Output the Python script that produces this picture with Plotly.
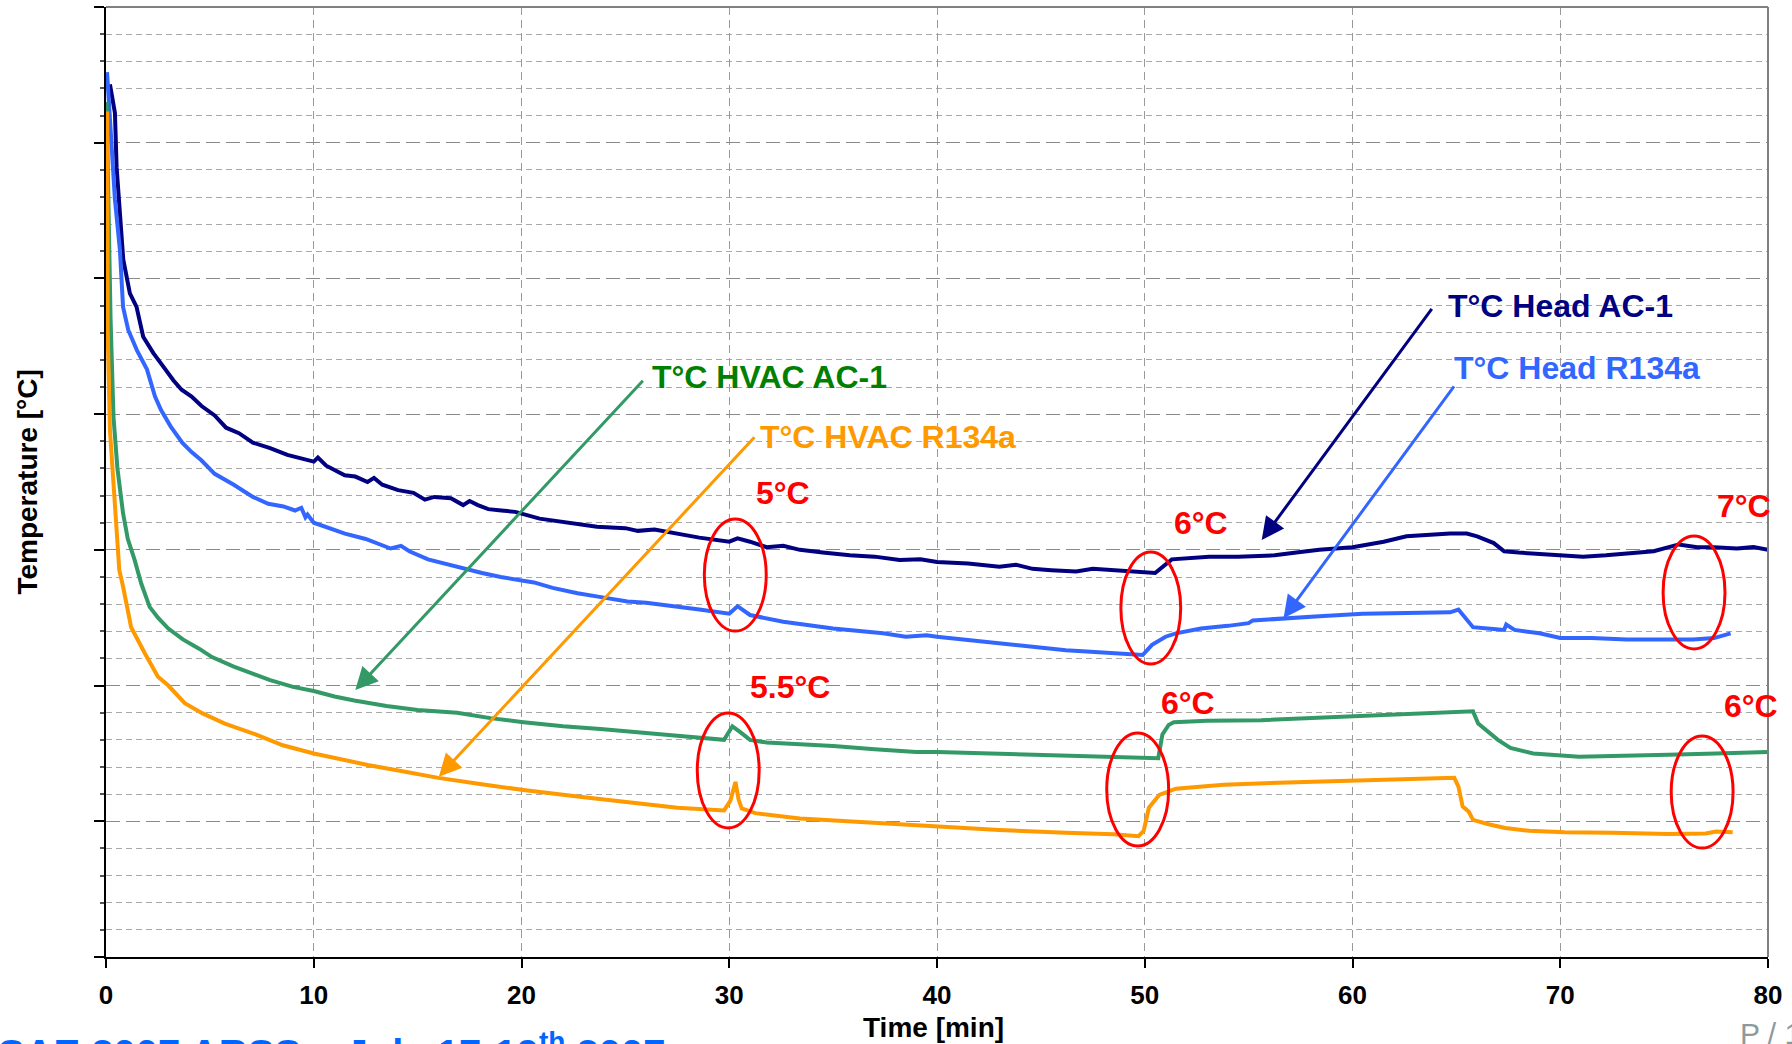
import plotly.graph_objects as go

# ---------------- data ----------------
head_ac1_t = [0.19, 0.43, 0.51, 0.67, 0.83, 1.15, 1.47, 1.79, 1.9, 2.28, 2.76, 3.24, 3.64, 4.12, 4.6,
              5.23, 5.78, 6.4, 7.07, 7.9, 8.73, 9.4, 10.0, 10.2, 10.6, 11.49, 12.0, 12.59, 12.9, 13.3,
              14.06, 14.8, 15.35, 15.8, 16.6, 17.19, 17.5, 17.9, 18.4, 19.03, 19.7, 20.87, 22.2, 23.63,
              25.0, 25.6, 26.4, 27.5, 28.56, 30.0, 30.4, 31.0, 31.8, 32.6, 33.4, 34.5, 35.8, 37.0, 38.2,
              39.2, 40.0, 41.5, 43.0, 43.8, 44.6, 45.5, 46.7, 47.5, 48.6, 49.5, 50.5, 51.3, 52.0, 53.1,
              54.5, 56.25, 57.3, 58.4, 60.0, 61.5, 62.6, 63.6, 64.7, 65.5, 66.0, 66.8, 67.3, 68.0, 69.0,
              70.0, 71.1, 72.2, 73.2, 74.5, 75.7, 76.6, 77.4, 78.5, 79.3, 80.0]
head_ac1_T = [64.3, 62.2, 58.2, 54.8, 51.4, 48.9, 47.9, 45.7, 45.4, 44.5, 43.5, 42.5, 41.8, 41.3, 40.6,
              39.9, 39.0, 38.6, 37.9, 37.5, 37.0, 36.7, 36.5, 36.8, 36.2, 35.5, 35.4, 35.0, 35.3, 34.8,
              34.4, 34.2, 33.7, 33.9, 33.8, 33.3, 33.6, 33.3, 33.0, 32.9, 32.8, 32.3, 32.0, 31.7,
              31.6, 31.4, 31.5, 31.2, 30.9, 30.6, 30.85, 30.6, 30.2, 30.3, 30.0, 29.8, 29.6, 29.5, 29.25,
              29.3, 29.1, 29.0, 28.76, 28.9, 28.6, 28.5, 28.4, 28.6, 28.5, 28.4, 28.3, 29.3, 29.4, 29.5,
              29.5, 29.6, 29.8, 30.0, 30.2, 30.6, 31.0, 31.1, 31.2, 31.2, 31.0, 30.5, 29.9, 29.8, 29.7,
              29.6, 29.5, 29.6, 29.7, 29.9, 30.4, 30.2, 30.2, 30.1, 30.2, 30.0]

head_r134a_t = [0.05, 0.19, 0.43, 0.67, 0.82, 1.07, 1.49, 1.97, 2.36, 2.65, 3.11, 3.67, 4.12, 4.59, 5.23,
                6.15, 7.07, 7.81, 8.54, 9.1, 9.4, 9.6, 9.7, 10.0, 10.7, 11.5, 12.5, 13.7, 14.2, 14.6,
                15.5, 16.5, 17.3, 18.1, 19.0, 19.95, 20.6, 21.5, 22.7, 23.9, 25.1, 26.0, 27.2, 28.56,
                30.0, 30.4, 31.0, 32.6, 35.0, 37.4, 38.5, 39.5, 40.0, 41.5, 43.0, 44.5, 46.2, 47.4,
                48.6, 49.9, 50.35, 51.0, 51.5, 52.7, 54.0, 55.0, 55.2, 56.5, 58.4, 60.5, 62.5, 64.7,
                65.1, 65.8, 66.5, 67.3, 67.4, 67.8, 69.0, 70.0, 71.5, 73.2, 74.8, 76.4, 77.4, 78.2]
head_r134a_T = [65.2, 61.9, 55.8, 52.1, 47.9, 46.2, 44.7, 43.3, 41.3, 40.3, 39.1, 37.9, 37.2, 36.6, 35.6,
                34.8, 33.9, 33.4, 33.2, 32.9, 33.1, 32.4, 32.6, 32.0, 31.6, 31.2, 30.8, 30.1, 30.3, 29.9,
                29.3, 28.9, 28.6, 28.3, 28.0, 27.8, 27.6, 27.2, 26.8, 26.5, 26.2, 26.1, 25.9, 25.6,
                25.3, 25.85, 25.2, 24.7, 24.2, 23.85, 23.6, 23.7, 23.6, 23.35, 23.1, 22.9, 22.6, 22.5,
                22.4, 22.25, 23.0, 23.6, 23.85, 24.2, 24.4, 24.6, 24.8, 24.9, 25.1, 25.3, 25.35, 25.4,
                25.6, 24.3, 24.2, 24.1, 24.5, 24.1, 23.85, 23.5, 23.5, 23.4, 23.4, 23.4, 23.5, 23.85]

hvac_ac1_t = [0.03, 0.12, 0.22, 0.36, 0.55, 0.82, 1.05, 1.37, 1.7, 2.1, 2.5, 3.0, 3.7, 4.5, 5.1, 6.15,
              7.0, 7.9, 9.0, 10.0, 11.0, 11.95, 13.5, 15.0, 16.9, 18.5, 20.1, 22.0, 23.8, 25.5, 27.5,
              29.75, 30.15, 30.5, 31.0, 31.8, 33.4, 35.0, 37.0, 39.0, 40.0, 43.0, 46.2, 48.5, 50.65,
              50.85, 51.15, 51.4, 53.0, 55.6, 57.8, 59.9, 62.0, 64.0, 65.8, 66.05, 66.5, 67.0, 67.6,
              68.7, 70.9, 73.0, 75.2, 77.5, 80.0]
hvac_ac1_T = [63.0, 55.0, 47.0, 39.8, 36.0, 32.7, 30.8, 29.3, 27.5, 25.8, 25.0, 24.2, 23.4, 22.7, 22.1, 21.4,
              20.9, 20.4, 19.9, 19.6, 19.2, 18.9, 18.5, 18.2, 18.0, 17.6, 17.3, 17.0, 16.8, 16.6, 16.3,
              16.0, 17.0, 16.6, 16.0, 15.8, 15.7, 15.55, 15.3, 15.1, 15.1, 14.96, 14.8, 14.75, 14.65,
              16.4, 17.1, 17.3, 17.4, 17.45, 17.6, 17.7, 17.85, 18.0, 18.1, 17.2, 16.6, 16.0, 15.4,
              15.0, 14.76, 14.8, 14.9, 15.0, 15.1]

hvac_r134a_t = [0.06, 0.08, 0.19, 0.43, 0.64, 0.82, 1.21, 1.86, 2.5, 3.0, 3.79, 4.65, 5.72, 7.2, 8.51,
                10.0, 11.2, 12.6, 14.2, 16.0, 18.0, 20.1, 22.8, 25.5, 27.5, 29.75, 30.05, 30.3, 30.45,
                30.6, 31.25, 33.4, 36.6, 40.0, 43.0, 46.2, 48.5, 49.7, 49.95, 50.2, 50.7, 51.5, 53.8,
                57.7, 62.1, 64.9, 65.1, 65.3, 65.6, 65.8, 66.5, 67.35, 68.5, 70.2, 72.5, 75.2, 77.0,
                77.5, 78.3]
hvac_r134a_T = [62.3, 46.2, 38.8, 32.7, 28.5, 27.3, 24.3, 22.4, 20.65, 20.0, 18.7, 17.95, 17.2, 16.4, 15.6,
                15.0, 14.6, 14.15, 13.7, 13.2, 12.75, 12.3, 11.8, 11.3, 11.0, 10.8, 11.5, 12.9, 11.6,
                10.95, 10.6, 10.2, 9.9, 9.6, 9.36, 9.16, 9.05, 8.9, 9.3, 11.0, 11.95, 12.4, 12.7,
                12.9, 13.04, 13.2, 12.55, 11.1, 10.7, 10.1, 9.8, 9.5, 9.3, 9.2, 9.15, 9.06, 9.1,
                9.25, 9.2]

x_ticks = [0, 10, 20, 30, 40, 50, 60, 70, 80]

series = [
    ("T°C Head AC-1", head_ac1_t, head_ac1_T, "#000080"),
    ("T°C Head R134a", head_r134a_t, head_r134a_T, "#3366FF"),
    ("T°C HVAC AC-1", hvac_ac1_t, hvac_ac1_T, "#339966"),
    ("T°C HVAC R134a", hvac_r134a_t, hvac_r134a_T, "#FF9900"),
]

# label text, colour, anchor (t, T), arrow tip (t, T), arrow tail (t, T), arrow colour
labels = [
    ("T°C Head AC-1", "#000080", (64.5, 47.97), (55.63, 30.73), (63.87, 47.87), "#000080"),
    ("T°C Head R134a", "#3366FF", (64.8, 43.4), (56.68, 24.96), (64.94, 42.15), "#3366FF"),
    ("T°C HVAC AC-1", "#008000", (26.2, 42.74), (12.0, 19.67), (25.91, 42.57), "#339966"),
    ("T°C HVAC R134a", "#FF9900", (31.4, 38.32), (16.02, 13.29), (31.28, 38.41), "#FF9900"),
]

diff_labels = [("5°C", 31.2, 34.19), ("6°C", 51.3, 31.98), ("7°C", 77.45, 33.2),
               ("5.5°C", 30.9, 19.9), ("6°C", 50.7, 18.72), ("6°C", 77.8, 18.46)]

ellipses = [(28.8, 31.78, 24.02, 32.27), (48.85, 51.73, 21.59, 29.84), (74.95, 77.93, 22.70, 31.02),
            (28.46, 31.44, 9.51, 17.98), (48.17, 51.15, 8.18, 16.51), (75.34, 78.32, 8.03, 16.28)]

FONT = "Liberation Sans, Arial, sans-serif"

fig = go.Figure()
for name, t, T, col in series:
    fig.add_trace(go.Scatter(x=t, y=T, mode="lines", name=name,
                             line=dict(color=col, width=4), showlegend=False))

annotations = []
for text, col, (lx, ly), (tx, ty), (ax, ay), acol in labels:
    annotations.append(dict(x=tx, y=ty, ax=ax, ay=ay, xref="x", yref="y", axref="x", ayref="y",
                            text="", showarrow=True, arrowhead=2, arrowsize=1.5, arrowwidth=3,
                            arrowcolor=acol))
    annotations.append(dict(x=lx, y=ly, xref="x", yref="y", text=text, showarrow=False,
                            xanchor="left", yanchor="middle",
                            font=dict(family=FONT, size=32, color=col, weight="bold")))
for text, lx, ly in diff_labels:
    annotations.append(dict(x=lx, y=ly, xref="x", yref="y", text=text, showarrow=False,
                            xanchor="left", yanchor="middle",
                            font=dict(family=FONT, size=32, color="#FF0000", weight="bold")))

# axis titles
annotations.append(dict(x=-0.0478, y=0.5, xref="paper", yref="paper", xanchor="center", yanchor="middle",
                        text="Temperature [°C]", textangle=-90, showarrow=False,
                        font=dict(family=FONT, size=28, color="black", weight="bold")))
annotations.append(dict(x=0.498, y=-0.0747, xref="paper", yref="paper", xanchor="center", yanchor="middle",
                        text="Time [min]", showarrow=False,
                        font=dict(family=FONT, size=28, color="black", weight="bold")))

# footer texts (partly cut by the page edge)
annotations.append(dict(x=-0.066, y=-0.127, xref="paper", yref="paper", xanchor="left", yanchor="bottom",
                        text="SAE 2007 ARSS – July 17-19<sup>th</sup> 2007", showarrow=False,
                        font=dict(family=FONT, size=40, color="#0066FF", weight="bold")))
annotations.append(dict(x=0.982, y=-0.1, xref="paper", yref="paper", xanchor="left", yanchor="bottom",
                        text="P / 12", showarrow=False,
                        font=dict(family=FONT, size=30, color="#8C9A9E")))

shapes = []
for x0, x1, y0, y1 in ellipses:
    shapes.append(dict(type="circle", xref="x", yref="y", x0=x0, x1=x1, y0=y0, y1=y1,
                       line=dict(color="#FF0000", width=3)))
# grey frame on top and right
shapes.append(dict(type="line", xref="paper", yref="paper", x0=0, x1=1, y0=1, y1=1,
                   line=dict(color="#808080", width=2)))
shapes.append(dict(type="line", xref="paper", yref="paper", x0=1, x1=1, y0=0, y1=1,
                   line=dict(color="#808080", width=2)))

fig.update_layout(
    width=1792, height=1044,
    margin=dict(l=106, r=24, t=7, b=87, autoexpand=False),
    paper_bgcolor="white", plot_bgcolor="white",
    annotations=annotations, shapes=shapes,
    xaxis=dict(range=[0, 80], tickvals=x_ticks, ticktext=[str(v) for v in x_ticks],
               automargin=False,
               showgrid=True, gridcolor="#9A9A9A", gridwidth=1, griddash="8px,5px",
               showline=True, linecolor="black", linewidth=2, zeroline=False,
               ticks="outside", ticklen=9, tickwidth=1.5, tickcolor="black",
               ticklabelstandoff=5,
               tickfont=dict(family=FONT, size=26, color="black", weight="bold")),
    yaxis=dict(range=[0, 70], dtick=10, tick0=0, showticklabels=False, automargin=False,
               showgrid=True, gridcolor="#8A8A8A", gridwidth=1, griddash="14px,6px",
               minor=dict(dtick=2, showgrid=True, gridcolor="#A8A8A8", gridwidth=1, griddash="6px,4px",
                          ticks="outside", ticklen=4, tickcolor="#555555"),
               showline=True, linecolor="black", linewidth=2, zeroline=False,
               ticks="outside", ticklen=10, tickwidth=1.5, tickcolor="black"),
)

fig.write_html("out.html", config={"displayModeBar": False},
               post_script="document.body.style.margin='0px';document.body.style.overflow='hidden';")
